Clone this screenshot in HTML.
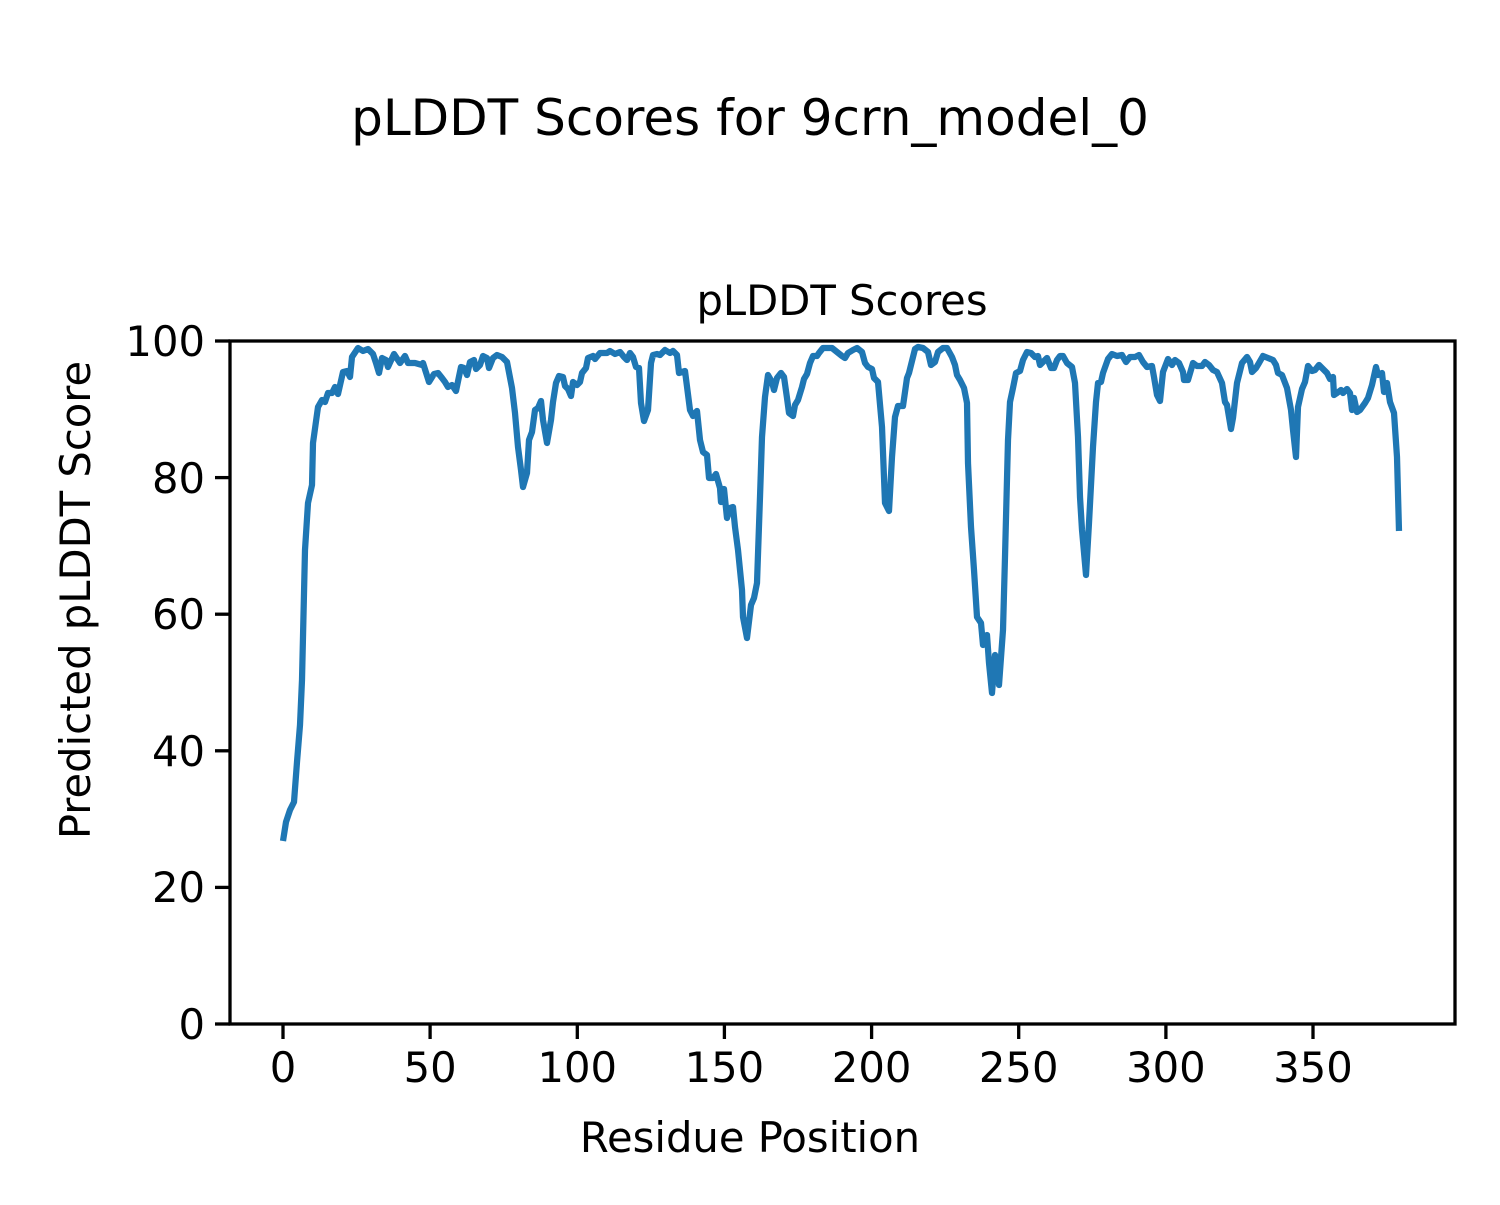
<!DOCTYPE html>
<html><head><meta charset="utf-8"><style>
html,body{margin:0;padding:0;background:#fff;}
svg text{font-family:"DejaVu Sans","Liberation Sans",sans-serif;fill:#000;}
</style></head><body>
<svg width="1500" height="1200" viewBox="0 0 1500 1200" xmlns="http://www.w3.org/2000/svg">
<rect width="1500" height="1200" fill="#fff"/>
<text x="750" y="135" font-size="50" text-anchor="middle">pLDDT Scores for 9crn_model_0</text>
<text x="842" y="315" font-size="41.7" text-anchor="middle">pLDDT Scores</text>
<polyline fill="none" stroke="#1f77b4" stroke-width="6.25" stroke-linejoin="round" stroke-linecap="butt" points="
283,841 286,822 290,810 294,802 297,762 300,725 302,680 305,550 308,503 312,485 313,443 318,407 322,400 325,402 328,393 332,393 335,387 338,394 343,372 347,371 350,377 352,357 358,348 363,351 368,349 373,354 376,363 379,373 382,358 386,360 388,367 394,354 400,363 405,356 408,363 415,363 422,365 423,363 429,382 434,374 438,373 442,378 445,382 448,387 452,385 456,391 461,367 464,368 467,375 470,362 474,360 476,369 480,365 483,356 487,358 489,368 493,358 497,355 502,357 507,362 512,388 515,413 518,447 521,470 523,487 527,473 529,440 532,432 535,410 538,408 541,401 543,420 547,443 551,420 553,402 556,383 559,376 563,377 565,386 568,389 571,396 573,382 577,385 580,382 582,373 586,368 588,358 593,356 595,359 600,353 607,353 610,351 615,354 620,352 624,357 627,360 630,353 633,357 636,367 639,368 641,403 644,421 648,410 651,363 653,355 657,354 660,355 665,350 670,353 673,351 677,355 679,373 685,371 690,410 693,416 697,411 700,440 703,452 707,455 709,478 713,478 716,474 720,488 721,502 724,489 727,518 730,508 733,507 735,527 738,550 742,590 743,617 747,638 751,605 754,598 757,583 760,497 762,437 765,397 768,375 772,382 774,390 777,378 781,373 784,377 787,398 789,413 793,416 795,405 798,400 802,387 804,379 807,374 810,363 813,356 817,356 819,353 823,348 828,348 832,348 837,352 842,356 845,358 848,353 853,350 857,348 862,352 865,363 868,367 872,369 874,378 878,382 882,427 885,503 889,511 892,457 895,417 898,406 903,406 907,378 909,373 913,357 915,349 918,347 923,348 928,352 931,365 935,362 938,352 943,348 947,348 952,357 955,365 957,375 960,380 964,388 967,403 968,463 971,527 974,570 977,617 981,623 983,645 987,635 989,663 992,693 995,655 997,663 999,685 1003,630 1005,557 1008,440 1010,402 1013,388 1016,373 1020,371 1023,360 1027,352 1031,353 1035,357 1038,356 1040,365 1043,362 1047,358 1051,368 1054,368 1057,360 1060,356 1063,356 1067,363 1072,367 1075,383 1078,437 1080,497 1082,530 1086,575 1089,523 1093,447 1096,402 1098,383 1101,382 1103,373 1108,359 1112,354 1117,356 1122,355 1126,362 1130,357 1135,357 1139,355 1143,362 1147,367 1152,366 1154,377 1157,395 1160,401 1163,372 1168,359 1172,365 1175,360 1179,363 1183,372 1184,380 1188,380 1193,363 1197,366 1202,366 1205,362 1209,365 1213,370 1217,372 1222,383 1225,402 1227,405 1231,429 1233,418 1237,383 1242,363 1247,357 1250,362 1252,372 1256,368 1259,363 1263,356 1268,358 1273,360 1276,365 1278,373 1282,375 1287,388 1291,410 1293,430 1296,457 1298,407 1302,389 1305,382 1308,366 1312,371 1315,370 1319,365 1323,369 1327,373 1330,379 1333,377 1334,395 1337,393 1341,390 1343,393 1347,389 1350,393 1352,410 1354,398 1357,412 1360,410 1365,403 1368,398 1372,385 1376,367 1378,375 1382,373 1384,392 1387,383 1390,402 1394,413 1397,457 1399,531"/>
<rect x="230" y="341" width="1225" height="683" fill="none" stroke="#000" stroke-width="3.3"/>
<g stroke="#000" stroke-width="3.3">
<line x1="230" y1="1024" x2="215" y2="1024"/>
<line x1="230" y1="887.4" x2="215" y2="887.4"/>
<line x1="230" y1="750.8" x2="215" y2="750.8"/>
<line x1="230" y1="614.2" x2="215" y2="614.2"/>
<line x1="230" y1="477.6" x2="215" y2="477.6"/>
<line x1="230" y1="341" x2="215" y2="341"/>
<line x1="283" y1="1024" x2="283" y2="1039"/>
<line x1="430.1" y1="1024" x2="430.1" y2="1039"/>
<line x1="577.3" y1="1024" x2="577.3" y2="1039"/>
<line x1="724.4" y1="1024" x2="724.4" y2="1039"/>
<line x1="871.6" y1="1024" x2="871.6" y2="1039"/>
<line x1="1018.7" y1="1024" x2="1018.7" y2="1039"/>
<line x1="1165.9" y1="1024" x2="1165.9" y2="1039"/>
<line x1="1313" y1="1024" x2="1313" y2="1039"/>
</g>
<g font-size="41.7" text-anchor="end">
<text x="205" y="1039">0</text>
<text x="205" y="902">20</text>
<text x="205" y="766">40</text>
<text x="205" y="629">60</text>
<text x="205" y="493">80</text>
<text x="205" y="356">100</text>
</g>
<g font-size="41.7" text-anchor="middle">
<text x="283" y="1082">0</text>
<text x="430.1" y="1082">50</text>
<text x="577.3" y="1082">100</text>
<text x="724.4" y="1082">150</text>
<text x="871.6" y="1082">200</text>
<text x="1018.7" y="1082">250</text>
<text x="1165.9" y="1082">300</text>
<text x="1313" y="1082">350</text>
</g>
<text x="750" y="1152" font-size="41.7" text-anchor="middle">Residue Position</text>
<text transform="translate(90,600) rotate(-90)" font-size="41.7" text-anchor="middle">Predicted pLDDT Score</text>
</svg>
</body></html>
